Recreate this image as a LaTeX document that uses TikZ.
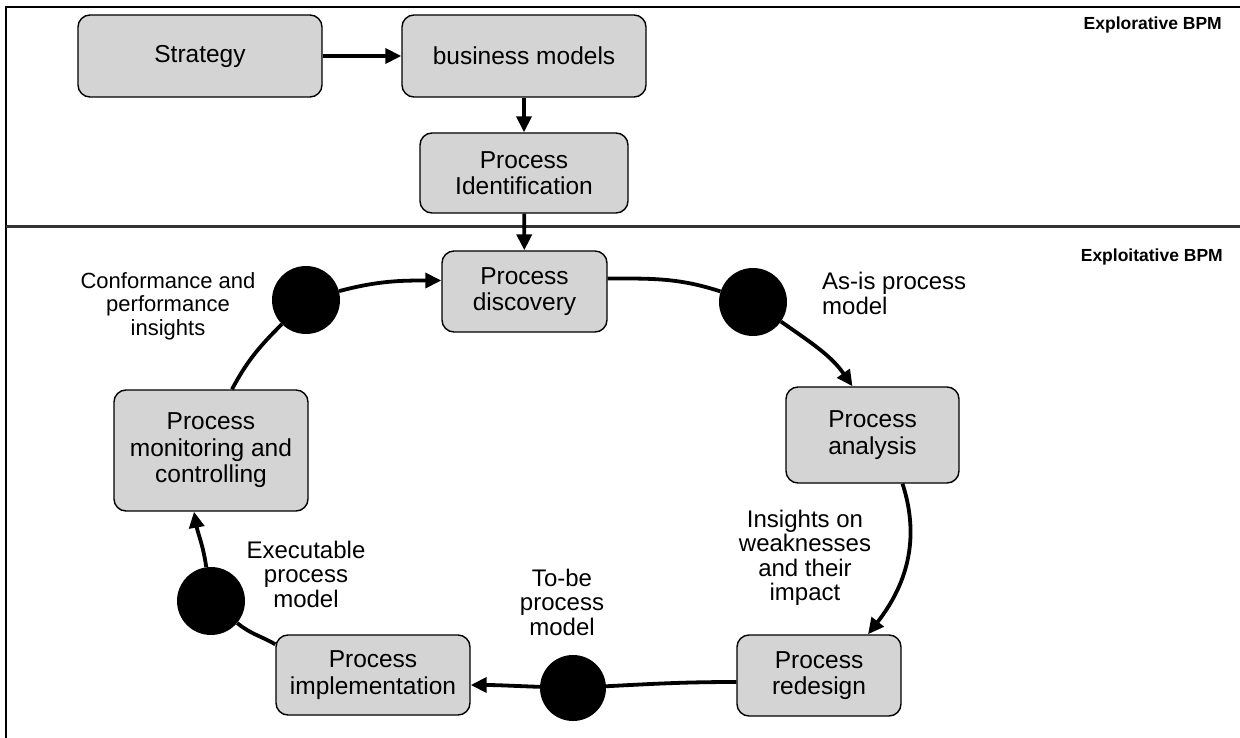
\documentclass[tikz,border=0pt]{standalone}
\usepackage{fontspec}
\setmainfont{Liberation Sans}
\usetikzlibrary{arrows.meta}
\definecolor{boxgray}{HTML}{D4D4D4}
\begin{document}
\begin{tikzpicture}[x=1pt,y=1pt,
  box/.style={draw=black, line width=1.4pt, fill=boxgray, rounded corners=12pt, align=center, inner sep=0pt, font=\fontsize{24.5}{26.5}\selectfont},
  dot/.style={circle, fill=black, minimum size=68pt, inner sep=0pt},
  lbl/.style={align=center, inner sep=0pt, font=\fontsize{24}{24.5}\selectfont},
  hdr/.style={inner sep=0pt, anchor=east, font=\fontsize{17.5}{20}\selectfont\bfseries},
  conn/.style={line width=3.8pt, -{Triangle[length=16pt,width=15pt]}},
  link/.style={line width=3.8pt},
  frame/.style={line width=1.4pt}
]
\useasboundingbox (0,0) rectangle (1240,-738);
% frame
\draw[frame] (6,-738) -- (6,-7) -- (1240,-7);
\draw[line width=2.6pt, black!80] (6,-226.5) -- (1240,-226.5);
\node[hdr] (hexp) at (1222,-25) {Explorative BPM};
\node[hdr] (hexl) at (1223,-257) {Exploitative BPM};
% boxes
\node[box, minimum width=244pt, minimum height=82pt] (strat) at (200,-56) {Strategy};
\node[box, minimum width=244pt, minimum height=82pt] (bm) at (524,-56) {business models};
\node[box, minimum width=208pt, minimum height=80pt] (pi) at (524,-173) {Process\\Identification};
\node[box, minimum width=165pt, minimum height=81pt] (pd) at (524.5,-291.5) {Process\\discovery};
\node[box, minimum width=173pt, minimum height=96pt] (pa) at (872.5,-435) {Process\\analysis};
\node[box, minimum width=164pt, minimum height=81pt] (pr) at (819,-675.5) {Process\\redesign};
\node[box, minimum width=194pt, minimum height=80pt] (impl) at (373,-675) {Process\\implementation};
\node[box, minimum width=194pt, minimum height=121pt] (pm) at (211,-450.5) {Process\\monitoring and\\controlling};
% dots
\node[dot] (c1) at (306,-300) {};
\node[dot] (c2) at (753,-302) {};
\node[dot, minimum size=66pt] (c3) at (573,-688) {};
\node[dot] (c4) at (211,-601) {};
% labels
\node[lbl, font=\fontsize{22}{23.5}\selectfont] (l1) at (168,-306) {Conformance and\\performance\\insights};
\node[lbl, align=left, anchor=west] (l2) at (822,-293.5) {As-is process\\model};
\node[lbl] (l3) at (805,-558) {Insights on\\weaknesses\\and their\\impact};
\node[lbl] (l4) at (562,-602) {To-be\\process\\model};
\node[lbl] (l5) at (306,-574) {Executable\\process\\model};
% connectors
\draw[conn] (strat) -- (bm);
\draw[conn] (bm) -- (pi);
\draw[conn] (pi) -- (pd);
\draw[link] ([xshift=21pt]pm.north) to[out=62,in=225] (c1);
\draw[conn] (c1) to[out=15,in=180] ([yshift=11pt]pd.west);
\draw[link] ([yshift=13pt]pd.east) to[out=0,in=162] (c2);
\draw[conn] (c2) to[out=-35,in=125] ([xshift=-20pt]pa.north);
\draw[conn] ([xshift=30pt]pa.south) to[out=-72,in=52] ([xshift=49pt]pr.north);
\draw[link] ([yshift=-6.5pt]pr.west) to[out=180,in=3] (c3);
\draw[conn] (c3) to[out=178,in=0] ([yshift=-10pt]impl.east);
\draw[link] ([yshift=-10pt]impl.north west) to[out=150,in=-40] (c4);
\draw[conn] (c4) to[out=98,in=-80] ([xshift=-17pt]pm.south);
\end{tikzpicture}
\end{document}
